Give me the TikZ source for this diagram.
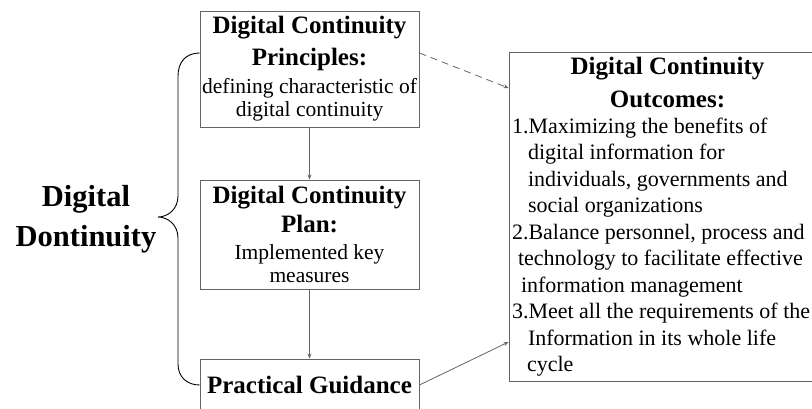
\documentclass[tikz,border=0pt]{standalone}
\usepackage{fontspec}
\setmainfont{Liberation Serif}
\usetikzlibrary{arrows.meta}

\definecolor{framegray}{RGB}{100,100,100}
\newcommand{\headfont}{\fontsize{25}{30}\selectfont\bfseries}
\newcommand{\bodyfont}{\fontsize{21.5}{23}\selectfont\mdseries}
\newcommand{\listfont}{\fontsize{22}{26.5}\selectfont\mdseries}

\begin{document}
\begin{tikzpicture}[x=1pt,y=-1pt,
    box/.style={draw=framegray, line width=0.9pt, inner sep=0pt, align=center, minimum width=219pt,
                font=\fontsize{21.5}{23}\selectfont},
    link/.style={draw=framegray, line width=0.8pt, -{Stealth[length=5pt,width=4pt]}},
    brace/.style={draw=black, line width=0.9pt}]
    \useasboundingbox (0,0) rectangle (812,409);

    % Draw the three stages
    \node[box, minimum height=116pt] (princ) at (309.5,69)
        {\headfont Digital Continuity\\[9pt] \headfont Principles:\\[5pt]
         \bodyfont defining characteristic of\\ \bodyfont digital continuity};
    \node[box, minimum height=109pt] (plan) at (309.5,234.5)
        {\headfont Digital Continuity\\[6pt] \headfont Plan:\\[4pt]
         \bodyfont Implemented key\\ \bodyfont measures};
    \node[box, minimum height=52pt] (prac) at (309.5,385)
        {\headfont Practical Guidance};

    % Draw the outcomes box
    \node[box, align=left, minimum width=317pt, minimum height=329pt, inner xsep=3pt,
          font=\fontsize{22}{26.5}\selectfont] (outc) at (667.5,216.5)
        {\makebox[311pt]{\headfont Digital Continuity}\\[6.5pt]
         \makebox[311pt]{\headfont Outcomes:}\\[-0.5pt]
         \listfont 1.Maximizing the benefits of\\
         \listfont \hspace*{16pt}digital information for\\
         \listfont \hspace*{16pt}individuals, governments and\\
         \listfont \hspace*{16pt}social organizations\\
         \listfont 2.Balance personnel, process and\\
         \listfont \hspace*{6pt}technology to facilitate effective\\
         \listfont \hspace*{9pt}information management\\
         \listfont 3.Meet all the requirements of the\\
         \listfont \hspace*{16pt}Information in its whole life\\
         \listfont \hspace*{15pt}cycle};

    % Draw the title
    \node[align=center, font=\fontsize{30.5}{40}\selectfont\bfseries] (title) at (86,219)
        {Digital\\ Dontinuity};

    % Draw the brace
    \coordinate (btop) at ([yshift=16pt]princ.west);
    \coordinate (bbot) at (prac.west);
    \coordinate (btip) at (158,217);
    \draw[brace] (btop) .. controls (186,53) and (178,62) .. (178,76)
        -- (178,196) .. controls (178,209) and (168,217) .. (btip)
        .. controls (168,217) and (178,225) .. (178,238)
        -- (178,364) .. controls (178,377) and (187,385) .. (bbot);

    % Draw the connectors
    \draw[link] (princ) -- (plan);
    \draw[link] (plan) -- (prac);
    \draw[link, dashed, dash pattern=on 7pt off 5pt] ([yshift=16pt]princ.east) -- ([yshift=128.5pt]outc.west);
    \draw[link] (prac.east) -- ([yshift=-125.5pt]outc.west);

\end{tikzpicture}
\end{document}
